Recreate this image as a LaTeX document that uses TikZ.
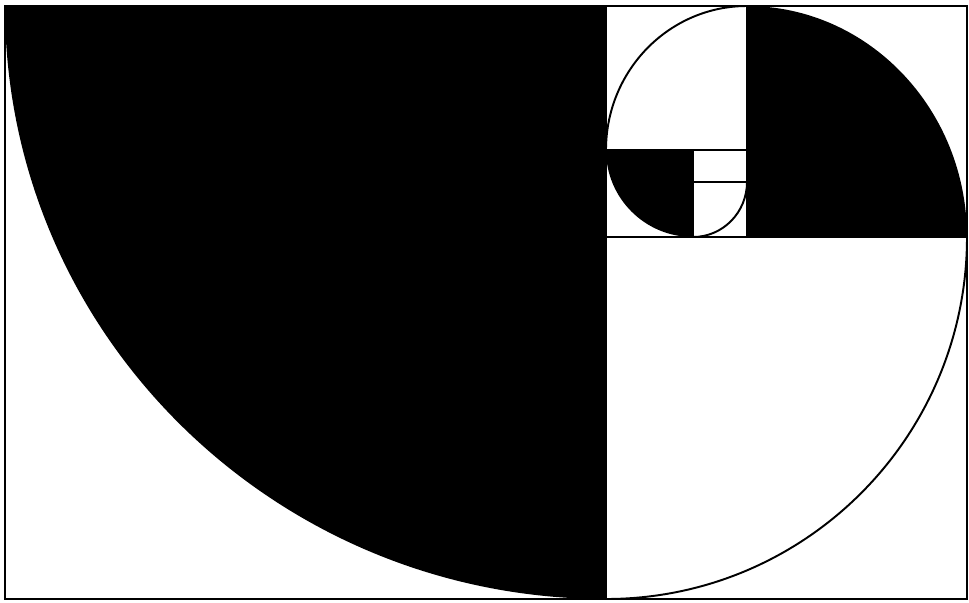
\documentclass[tikz,border=0pt]{standalone}
\usepackage{tikz}
\usetikzlibrary{calc}

\begin{document}
\begin{tikzpicture}[
    frameline/.style={draw=black, line width=0.45pt},
    spiralarc/.style={draw=black, line width=0.55pt},
    blackpart/.style={fill=black}
  ]

  \useasboundingbox (0,0) rectangle (9.69,6.02);

  % ---- Corner points of the squares ----
  \coordinate (BL) at (0.05,0.03);
  \coordinate (TR) at (9.67,5.96);
  \coordinate (C1) at (6.06,5.96);
  \coordinate (C2) at (6.06,3.65);
  \coordinate (C3) at (7.47,3.65);
  \coordinate (C4) at (7.47,4.52);
  \coordinate (C5) at (6.93,4.52);
  \coordinate (C6) at (6.93,4.20);

  % ============ Filled quarter discs ============

  % Square 1 (big, left)
  \fill[blackpart] (C1) -- (0.05,5.96)
    arc[start angle=180, end angle=270, x radius=6.01cm, y radius=5.93cm]
    -- cycle;

  % Square 3 (top right)
  \fill[blackpart] (C3) -- (9.67,3.65)
    arc[start angle=0, end angle=90, x radius=2.20cm, y radius=2.31cm]
    -- cycle;

  % Square 5 (small, lower left of centre)
  \fill[blackpart] (C5) -- (6.06,4.52)
    arc[start angle=180, end angle=270, x radius=0.87cm, y radius=0.87cm]
    -- cycle;

  % ============ Open arcs ============

  % Square 2 (bottom right)
  \draw[spiralarc] (6.06,0.03)
    arc[start angle=270, end angle=360, x radius=3.61cm, y radius=3.62cm];

  % Square 4 (top, next to square 3)
  \draw[spiralarc] (7.47,5.96)
    arc[start angle=90, end angle=180, x radius=1.41cm, y radius=1.44cm];

  % Square 6 (smallest)
  \draw[spiralarc] (6.93,3.65)
    arc[start angle=270, end angle=360, x radius=0.54cm, y radius=0.55cm];

  % ============ Square borders ============

  \draw[frameline] (BL) rectangle (TR);
  \draw[frameline] (C1) -- (6.06,0.03);
  \draw[frameline] (C2) -- (9.67,3.65);
  \draw[frameline] (C3) -- (7.47,5.96);
  \draw[frameline] (6.06,4.52) -- (C4);
  \draw[frameline] (C5) -- (6.93,3.65);
  \draw[frameline] (C6) -- (7.47,4.20);

\end{tikzpicture}
\end{document}
